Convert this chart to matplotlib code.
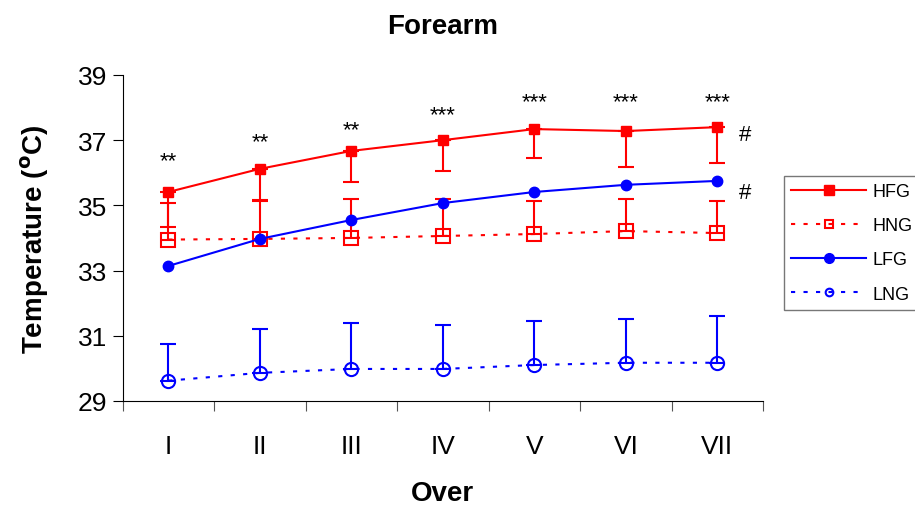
import numpy as np
import matplotlib
matplotlib.use("Agg")
import matplotlib.pyplot as plt
from matplotlib.lines import Line2D

plt.rcParams["font.family"] = ["Liberation Sans", "DejaVu Sans"]

# data
overs = ["I", "II", "III", "IV", "V", "VI", "VII"]
hfg = [35.41, 36.12, 36.67, 37.00, 37.34, 37.28, 37.40]
hfg_sd = [1.07, 1.00, 0.95, 0.94, 0.89, 1.10, 1.10]
hng = [33.95, 33.97, 34.00, 34.06, 34.12, 34.21, 34.15]
hng_sd = [1.12, 1.20, 1.20, 1.14, 1.01, 0.99, 0.98]
lfg = [33.14, 33.97, 34.55, 35.07, 35.41, 35.63, 35.75]
lng = [29.62, 29.86, 29.98, 29.98, 30.10, 30.17, 30.17]
lng_sd = [1.13, 1.34, 1.41, 1.35, 1.35, 1.33, 1.43]
stars = ["**", "**", "**", "***", "***", "***", "***"]
star_y = [36.48, 37.07, 37.44, 37.90, 38.30, 38.30, 38.30]
hash_y = [37.28, 35.50]

x = np.arange(len(overs))
zeros = np.zeros(len(overs))

fig = plt.figure(figsize=(9.15, 5.1), dpi=100)
ax = fig.add_axes([0.134, 0.212, 0.700, 0.639])

red = "#ff0000"
blue = "#0000ff"
dots = (0, (2, 4))
eb = dict(capsize=5.5, capthick=1.5, elinewidth=1.5)

ax.errorbar(x, hfg, yerr=[hfg_sd, zeros], color=red, lw=1.5, marker="s", ms=7.5,
            mec=red, mfc=red, zorder=4, **eb)
ax.errorbar(x, hng, yerr=[zeros, hng_sd], color=red, lw=1.5, ls=dots, marker="s", ms=9.5,
            mec=red, mfc="none", mew=1.5, zorder=3, **eb)
ax.plot(x, lfg, color=blue, lw=1.5, marker="o", ms=7.5, mec=blue, mfc=blue, zorder=5)
ax.errorbar(x, lng, yerr=[zeros, lng_sd], color=blue, lw=1.5, ls=dots, marker="o", ms=9.5,
            mec=blue, mfc="none", mew=1.5, zorder=3, **eb)

for xi, s, sy in zip(x, stars, star_y):
    ax.text(xi, sy - 0.12, s, ha="center", va="center", fontsize=16)
for hy in hash_y:
    ax.text(6.23, hy - 0.1, "#", ha="left", va="center", fontsize=16)

ax.set_xlim(-0.5, 6.5)
ax.set_ylim(29, 39)
ax.set_yticks(np.arange(29, 40, 2))
ax.set_xticks(np.arange(-0.5, 7, 1))
ax.set_xticklabels([])
ax.set_xticks(x, minor=True)
ax.set_xticklabels(overs, minor=True)
ax.tick_params(axis="x", which="minor", length=0, pad=24, labelsize=19)
ax.tick_params(axis="x", which="major", length=7, direction="out", color="#555555")
ax.tick_params(axis="y", length=7, direction="out", labelsize=19, pad=4)

for sp in ["top", "right"]:
    ax.spines[sp].set_visible(False)

ax.set_title("Forearm", fontsize=20, fontweight="bold", pad=30)
ax.set_xlabel("Over", fontsize=20, fontweight="bold", labelpad=16)
ax.set_ylabel(r"Temperature ($^{\mathbf{o}}$C)", fontsize=20, fontweight="bold", labelpad=19)

handles = [
    Line2D([], [], color=red, lw=1.5, marker="s", ms=7, mfc=red, mec=red),
    Line2D([], [], color=red, lw=1.5, ls=dots, marker="s", ms=6, mfc="none", mec=red, mew=1.5),
    Line2D([], [], color=blue, lw=1.5, marker="o", ms=7, mfc=blue, mec=blue),
    Line2D([], [], color=blue, lw=1.5, ls=dots, marker="o", ms=5.5, mfc="none", mec=blue, mew=1.5),
]
leg = fig.legend(handles, ["HFG", "HNG", "LFG", "LNG"], loc="upper left",
                 bbox_to_anchor=(0.857, 0.653), fontsize=13, frameon=True,
                 fancybox=False, edgecolor="#555555", handlelength=4.15,
                 handletextpad=0.35, borderpad=0.4, labelspacing=0.95, borderaxespad=0)
leg.get_frame().set_linewidth(1.0)

fig.savefig("out.png", dpi=100)
